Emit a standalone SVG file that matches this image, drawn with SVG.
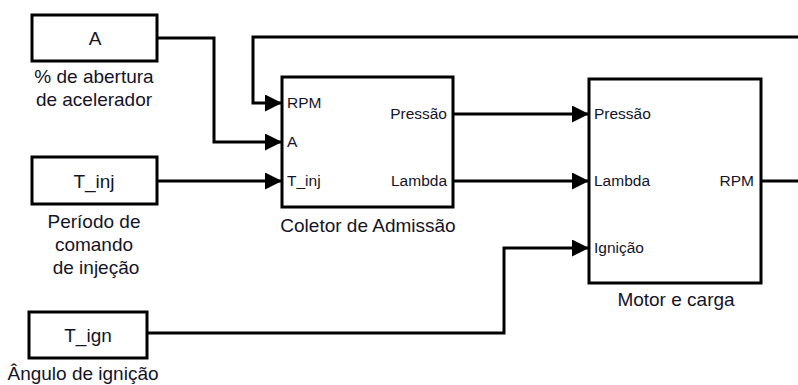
<svg xmlns="http://www.w3.org/2000/svg" width="798" height="385" viewBox="0 0 798 385">
<style>
.blk{fill:#fff;stroke:#000;stroke-width:3}
.t{font-family:"Liberation Sans",Arial,sans-serif;font-size:19px;fill:#141428}
.p{font-family:"Liberation Sans",Arial,sans-serif;font-size:15.5px;fill:#141428}
.c{fill:none;stroke:#000;stroke-width:3}
</style>
<defs>
<marker id="ar" markerUnits="userSpaceOnUse" markerWidth="18" markerHeight="18" refX="17" refY="8.5" orient="auto">
<path d="M0,0 L17,8.5 L0,17 Z" fill="#000"/>
</marker>
</defs>
<rect width="798" height="385" fill="#fff"/>
<g id="connectors">
<path class="c" d="M157,38 H214 V142 H282" marker-end="url(#ar)"/>
<path class="c" d="M798,37 H253 V103 H282" marker-end="url(#ar)"/>
<path class="c" d="M157,181 H282" marker-end="url(#ar)"/>
<path class="c" d="M453,114 H589" marker-end="url(#ar)"/>
<path class="c" d="M453,181 H589" marker-end="url(#ar)"/>
<path class="c" d="M147,333 H504 V248 H589" marker-end="url(#ar)"/>
<path class="c" d="M761,181 H798"/>
</g>
<g id="blockA">
<rect class="blk" x="32" y="15" width="125" height="46"/>
<text class="t" x="95" y="45" text-anchor="middle">A</text>
<text class="t" x="94" y="83" text-anchor="middle">% de abertura</text>
<text class="t" x="94" y="106" text-anchor="middle">de acelerador</text>
</g>
<g id="blockTinj">
<rect class="blk" x="32" y="157" width="125" height="47"/>
<text class="t" x="94" y="188" text-anchor="middle">T_inj</text>
<text class="t" x="94" y="228" text-anchor="middle">Período de</text>
<text class="t" x="94" y="251" text-anchor="middle">comando</text>
<text class="t" x="96" y="274" text-anchor="middle">de injeção</text>
</g>
<g id="blockTign">
<rect class="blk" x="29" y="312" width="118" height="46"/>
<text class="t" x="88" y="342" text-anchor="middle">T_ign</text>
<text class="t" x="83" y="380" text-anchor="middle">Ângulo de ignição</text>
</g>
<g id="coletor">
<rect class="blk" x="282" y="77" width="171" height="130"/>
<text class="p" x="287" y="108">RPM</text>
<text class="p" x="287" y="147">A</text>
<text class="p" x="287" y="186">T_inj</text>
<text class="p" x="447" y="119" text-anchor="end">Pressão</text>
<text class="p" x="447" y="186" text-anchor="end">Lambda</text>
<text class="t" x="368" y="232" text-anchor="middle">Coletor de Admissão</text>
</g>
<g id="motor">
<rect class="blk" x="589" y="79" width="172" height="204"/>
<text class="p" x="594" y="119">Pressão</text>
<text class="p" x="594" y="186">Lambda</text>
<text class="p" x="594" y="253">Ignição</text>
<text class="p" x="754" y="186" text-anchor="end">RPM</text>
<text class="t" x="676" y="306" text-anchor="middle">Motor e carga</text>
</g>
</svg>
